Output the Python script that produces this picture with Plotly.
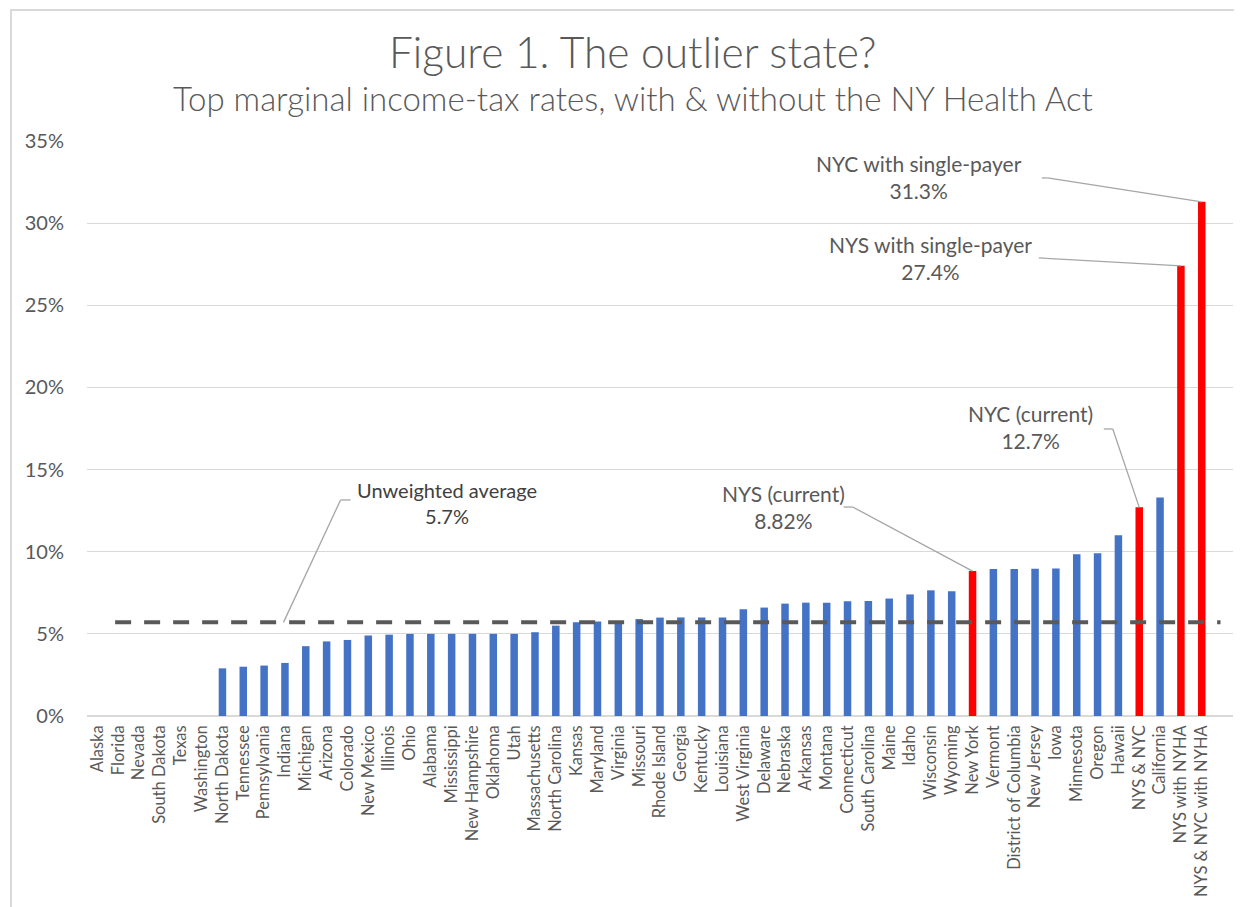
import plotly.graph_objects as go

# ---------------- data ----------------
categories = [
    "Alaska", "Florida", "Nevada", "South Dakota", "Texas", "Washington",
    "North Dakota", "Tennessee", "Pennsylvania", "Indiana", "Michigan", "Arizona",
    "Colorado", "New Mexico", "Illinois", "Ohio", "Alabama", "Mississippi",
    "New Hampshire", "Oklahoma", "Utah", "Massachusetts", "North Carolina", "Kansas",
    "Maryland", "Virginia", "Missouri", "Rhode Island", "Georgia", "Kentucky",
    "Louisiana", "West Virginia", "Delaware", "Nebraska", "Arkansas", "Montana",
    "Connecticut", "South Carolina", "Maine", "Idaho", "Wisconsin", "Wyoming",
    "New York", "Vermont", "District of Columbia", "New Jersey", "Iowa", "Minnesota",
    "Oregon", "Hawaii", "NYS & NYC", "California", "NYS with NYHA", "NYS & NYC with NYHA",
]
rates = [
    0.0, 0.0, 0.0, 0.0, 0.0, 0.0,
    0.029, 0.030, 0.0307, 0.0323, 0.0425, 0.0454,
    0.0463, 0.049, 0.0495, 0.04997, 0.05, 0.05,
    0.05, 0.05, 0.05, 0.051, 0.055, 0.057,
    0.0575, 0.0575, 0.059, 0.0599, 0.06, 0.06,
    0.06, 0.065, 0.066, 0.0684, 0.069, 0.069,
    0.0699, 0.070, 0.0715, 0.074, 0.0765, 0.076,
    0.0882, 0.0895, 0.0895, 0.0897, 0.0898, 0.0985,
    0.099, 0.110, 0.127, 0.133, 0.274, 0.313,
]
highlighted = ["New York", "NYS & NYC", "NYS with NYHA", "NYS & NYC with NYHA"]
average_rate = 0.057
y_tick_values = [0, 0.05, 0.10, 0.15, 0.20, 0.25, 0.30, 0.35]
y_tick_labels = ["0%", "5%", "10%", "15%", "20%", "25%", "30%", "35%"]

# callouts: (label, category pointed at, value pointed at, value text)
callouts = [
    ("NYS (current)", "New York", 0.0882, "8.82%"),
    ("NYC (current)", "NYS & NYC", 0.127, "12.7%"),
    ("NYS with single-payer", "NYS with NYHA", 0.274, "27.4%"),
    ("NYC with single-payer", "NYS & NYC with NYHA", 0.313, "31.3%"),
]

BLUE = "#4472C4"
RED = "#FF0000"
TEXT = "#595959"
GRID = "#D9D9D9"
LEADER = "#A6A6A6"
FONT = "Lato"

colors = [RED if c in highlighted else BLUE for c in categories]

fig = go.Figure()
fig.add_trace(go.Bar(
    x=categories, y=rates, marker=dict(color=colors, line=dict(width=0)),
    width=0.36, hoverinfo="x+y", showlegend=False,
))

shapes = []
annotations = []

# outer frame of the chart area (only top & left visible in reference)
shapes.append(dict(type="rect", xref="paper", yref="paper",
                   x0=-0.0663, x1=1.2, y0=-0.6, y1=1.2278,
                   line=dict(color=GRID, width=2), layer="below"))

# dashed average line
shapes.append(dict(type="line", xref="x", yref="y", x0=0.85, x1=53.9,
                   y0=average_rate, y1=average_rate,
                   line=dict(color=TEXT, width=4, dash="16px,13px")))

def idx(name):
    return categories.index(name)

def leader(points):
    for (xa, ya), (xb, yb) in zip(points[:-1], points[1:]):
        shapes.append(dict(type="line", xref="x", yref="y", x0=xa, y0=ya, x1=xb, y1=yb,
                           line=dict(color=LEADER, width=1.3)))

# average callout
annotations.append(dict(x=16.8, y=0.1296, xref="x", yref="y", showarrow=False,
                        text="Unweighted average<br>5.7%", align="center",
                        font=dict(family=FONT, size=20, color="#404040")))
leader([(12.15, 0.1315), (11.67, 0.1315), (8.93, average_rate)])

# state callouts
text_pos = {
    "NYS (current)": (32.93, 0.1272),
    "NYC (current)": (44.79, 0.1759),
    "NYS with single-payer": (39.99, 0.2788),
    "NYC with single-payer": (39.41, 0.3280),
}
leader_start = {
    "NYS (current)": [(35.81, 0.1272), (36.25, 0.1272)],
    "NYC (current)": [(48.30, 0.1747), (48.73, 0.1747)],
    "NYS with single-payer": [(45.18, 0.2788), (45.55, 0.2785)],
    "NYC with single-payer": [(45.33, 0.3275), (45.60, 0.3275)],
}
for label, cat, val, vtxt in callouts:
    tx, ty = text_pos[label]
    annotations.append(dict(x=tx, y=ty, xref="x", yref="y", showarrow=False,
                            text=f"{label}<br>{vtxt}", align="center",
                            font=dict(family=FONT, size=21, color=TEXT)))
    leader(leader_start[label] + [(idx(cat), val)])

# titles
annotations.append(dict(x=0.4764, y=1.1548, xref="paper", yref="paper", showarrow=False,
                        text="Figure 1. The outlier state?", yanchor="middle",
                        font=dict(family=FONT, size=42.5, color=TEXT, weight=300)))
annotations.append(dict(x=0.4764, y=1.0748, xref="paper", yref="paper", showarrow=False,
                        text="Top marginal income-tax rates, with &amp; without the NY Health Act",
                        yanchor="middle",
                        font=dict(family=FONT, size=33, color=TEXT, weight=300)))

fig.update_layout(
    width=1234, height=899, autosize=False,
    margin=dict(l=79, r=9, t=133, b=191, pad=0),
    paper_bgcolor="white", plot_bgcolor="white",
    font=dict(family=FONT, color=TEXT),
    shapes=shapes, annotations=annotations,
    xaxis=dict(
        type="category", range=[-0.5, 54.5], tickangle=-90,
        tickmode="linear", tick0=0, dtick=1,
        tickfont=dict(family=FONT, size=16.5, color=TEXT),
        showgrid=False, showline=False, ticks="", zeroline=False,
        ticklabelstandoff=5,
    ),
    yaxis=dict(
        range=[0, 0.35], tickvals=y_tick_values, ticktext=y_tick_labels,
        tickfont=dict(family=FONT, size=20, color=TEXT),
        showgrid=True, gridcolor=GRID, gridwidth=1,
        zeroline=True, zerolinecolor=GRID, zerolinewidth=1.5,
        showline=False, ticks="", ticklabelstandoff=22,
    ),
)

fig.write_html("out.html")
